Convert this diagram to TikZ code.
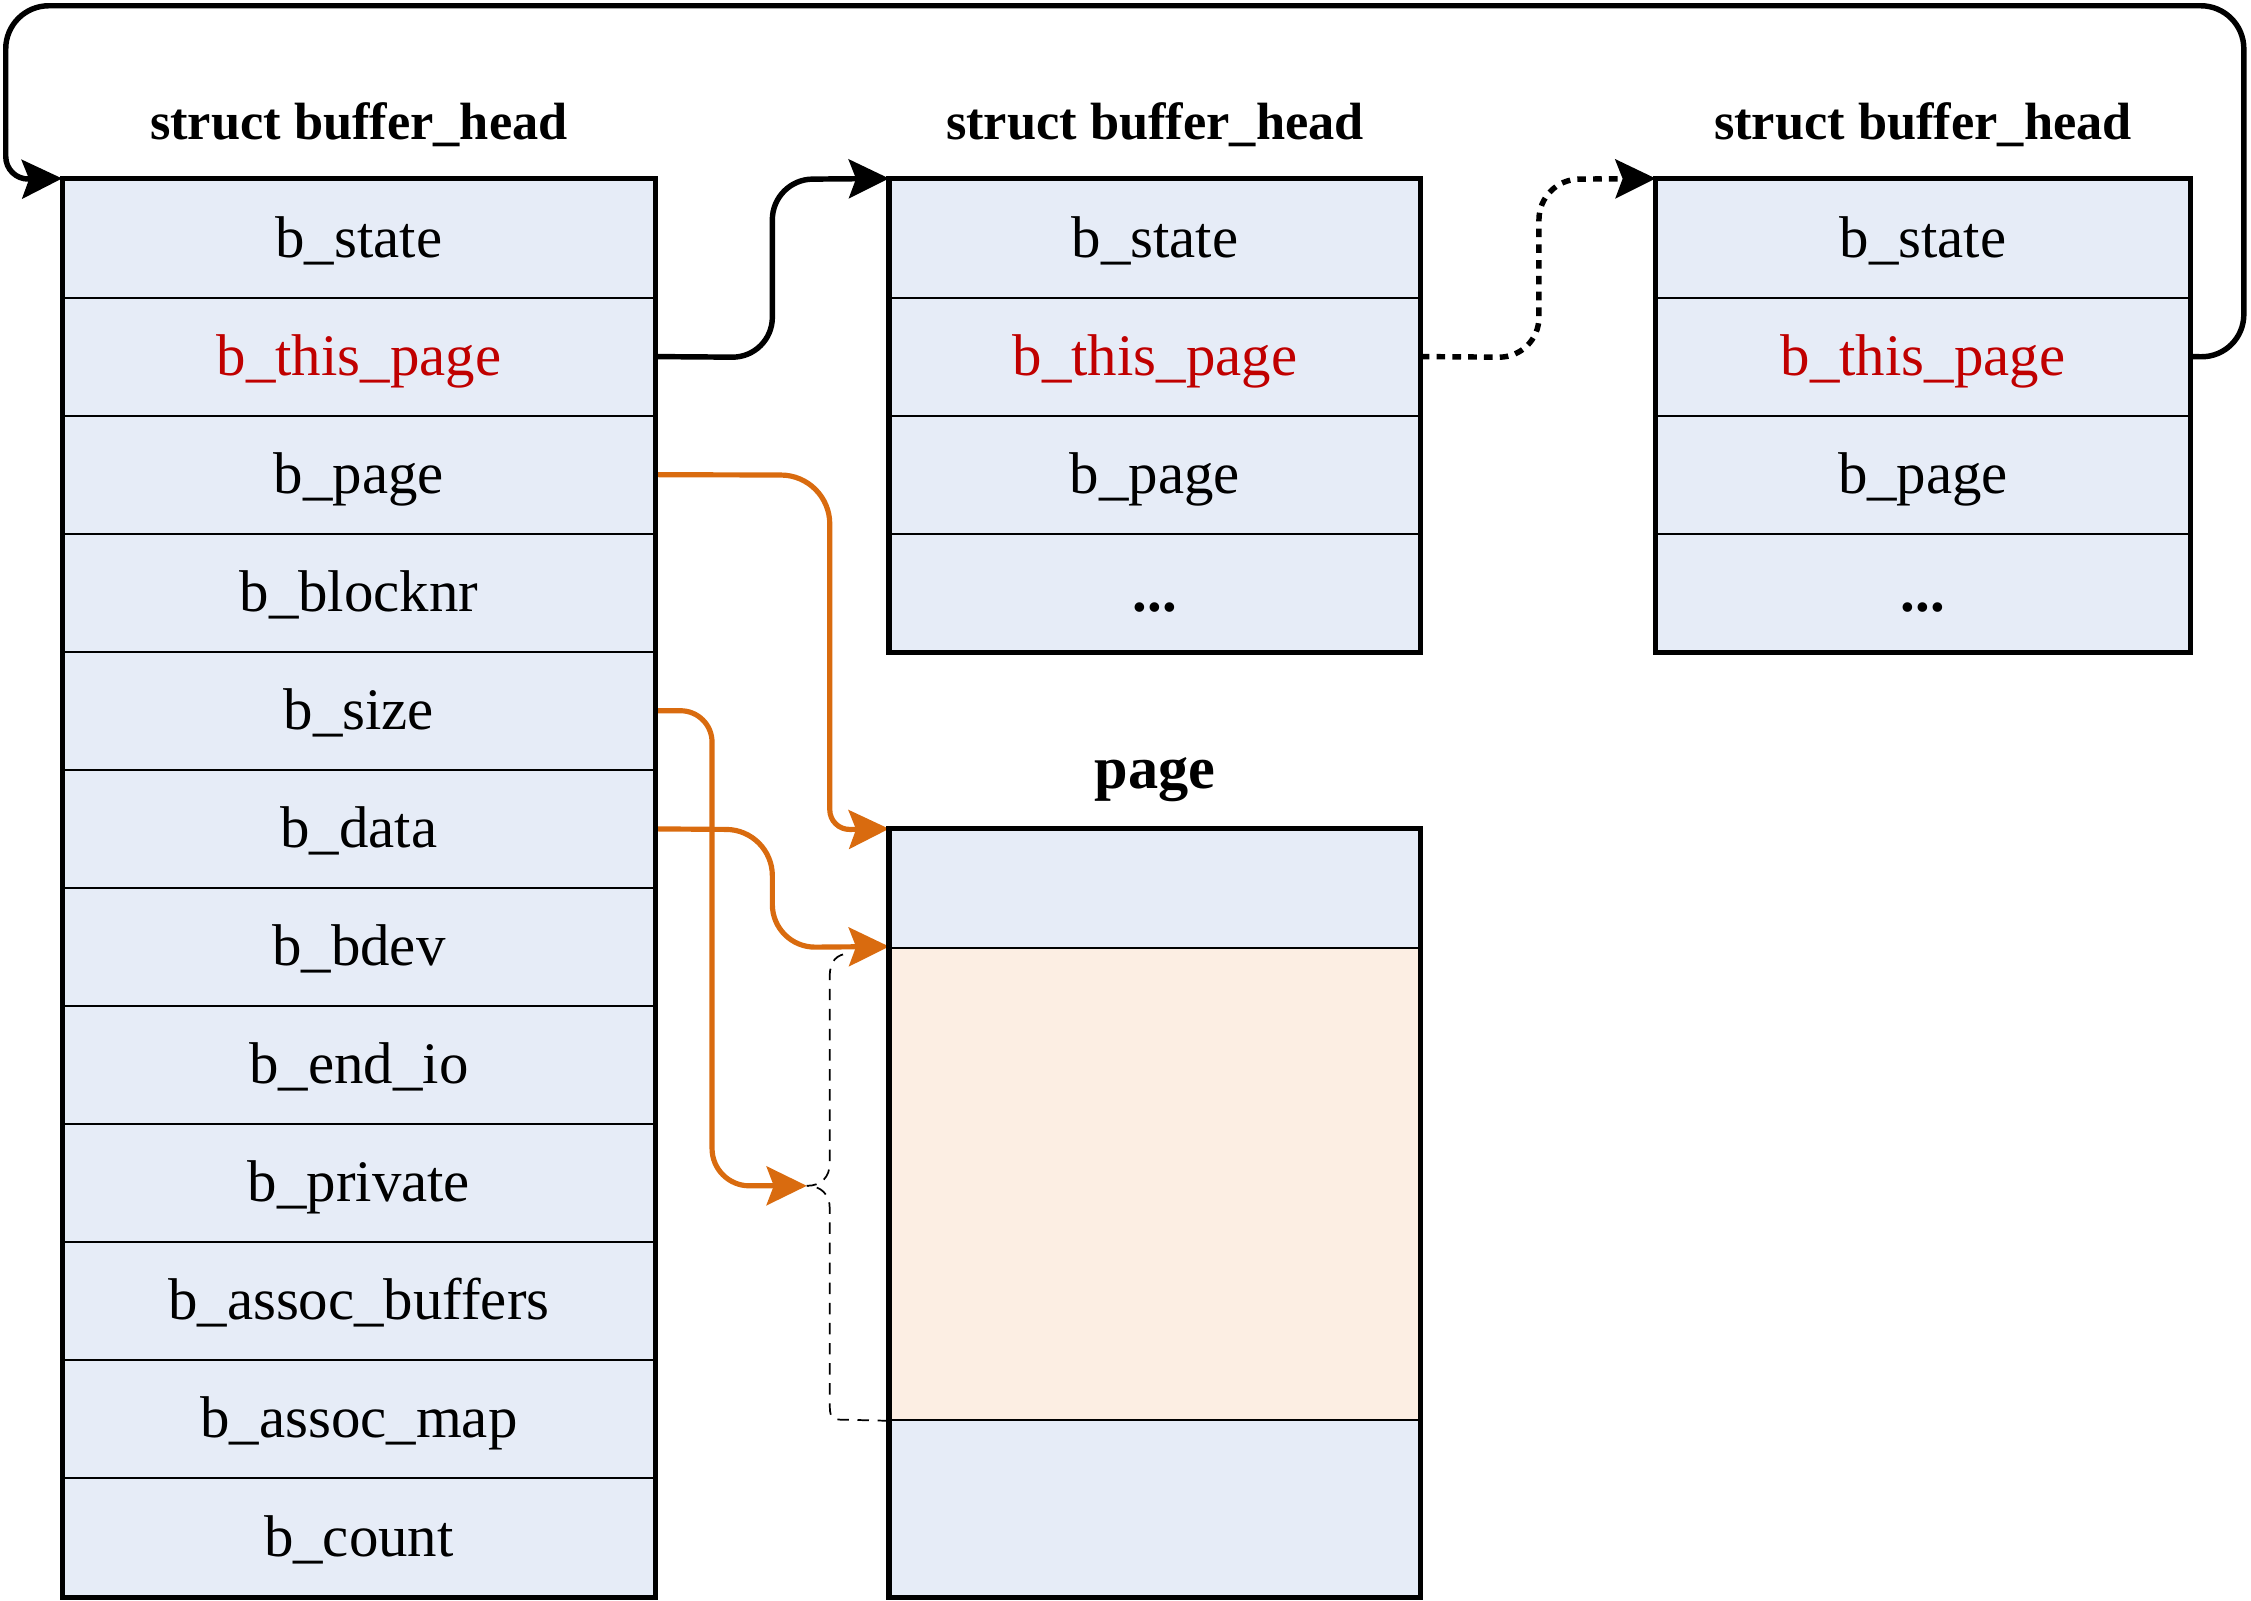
\documentclass[tikz,border=0pt]{standalone}
\usepackage{fontspec}
\setmainfont{Liberation Serif}
\usetikzlibrary{arrows.meta}
\definecolor{cellblue}{HTML}{E6ECF7}
\definecolor{cellpeach}{HTML}{FCEEE3}
\definecolor{fieldred}{HTML}{C00000}
\definecolor{linkorange}{HTML}{D96B0F}
\begin{document}
\begin{tikzpicture}[x=0.5pt, y=-0.5pt,
  cell/.style={draw=black, line width=0.7pt, fill=cellblue, inner sep=0pt,
    font=\fontsize{20.5}{24}\selectfont, text height=14pt, text depth=1pt, anchor=center},
  lcell/.style={cell, minimum width=206pt, minimum height=41.125pt},
  scell/.style={cell, minimum width=185pt, minimum height=41.125pt},
  frame/.style={draw=black, line width=1.8pt},
  title/.style={font=\fontsize{18.25}{22}\bfseries\selectfont, anchor=base, inner sep=0pt},
  tip/.style={-{Stealth[length=14pt,width=13.5pt,inset=2.5pt]}},
  blk/.style={draw=black, line width=1.9pt, tip},
  org/.style={draw=linkorange, line width=1.8pt, tip},
  bracedash/.style={draw=black, line width=0.6pt, dash pattern=on 4pt off 3pt}
]
\useasboundingbox (0,0) rectangle (1568,1115);

% titles
\node[title] (t1) at (250,97) {struct buffer\_head};
\node[title] (t2) at (804.5,97) {struct buffer\_head};
\node[title] (t3) at (1339.5,97) {struct buffer\_head};
\node[title, font=\fontsize{21}{25}\bfseries\selectfont] (tp) at (804.5,549) {page};

% left struct
\foreach \t [count=\i] in {b\_state,{\textcolor{fieldred}{b\_this\_page}},b\_page,b\_blocknr,b\_size,b\_data,b\_bdev,b\_end\_io,b\_private,b\_assoc\_buffers,b\_assoc\_map,b\_count}
  \node[lcell] (L\i) at (250,{125+82.25*(\i-0.5)}) {\t};

% middle struct
\foreach \t [count=\i] in {b\_state,{\textcolor{fieldred}{b\_this\_page}},b\_page,\textbf{...}}
  \node[scell, minimum width=184.5pt] (M\i) at (804.5,{125+82.25*(\i-0.5)}) {\t};

% right struct
\foreach \t [count=\i] in {b\_state,{\textcolor{fieldred}{b\_this\_page}},b\_page,\textbf{...}}
  \node[scell, minimum width=185.5pt] (R\i) at (1339.5,{125+82.25*(\i-0.5)}) {\t};

% page
\node[cell, minimum width=184.5pt, minimum height=41pt] (P1) at (804.5,619) {};
\node[cell, fill=cellpeach, minimum width=184.5pt, minimum height=164.5pt] (P2) at (804.5,824.5) {};
\node[cell, minimum width=184.5pt, minimum height=61.5pt] (P3) at (804.5,1050.5) {};

\coordinate (szend) at (562,826);
\coordinate (loopa) at (1563,249);
\coordinate (loopb) at (1563,4);
\coordinate (loopc) at (4,4);
\coordinate (loopd) at (4,90);

% black links
\draw[blk, -, rounded corners=15pt] (R2.east) -- (loopa) -- (loopb) -- (loopc) -- (loopd);
\draw[blk, rounded corners=8pt] (loopd) -- (4,125) -- (L1.north west);
\draw[blk, rounded corners=14pt] (L2.east) -- (538,249) -- (538,125) -- (M1.north west);
\draw[blk, dash pattern=on 3pt off 2.5pt, rounded corners=14pt] (M2.east) -- (1072,249) -- (1072,125) -- (R1.north west);

% orange links
\draw[org] (L3.east) [rounded corners=17pt] -- (578,331) [rounded corners=7pt] -- (578,578) -- (P1.north west);
\draw[org] (L5.east) [rounded corners=11pt] -- (496,495) [rounded corners=13pt] -- (496,826) -- (szend);
\draw[org] (L6.east) [rounded corners=16pt] -- (538,578) [rounded corners=15pt] -- (538,660) -- (P2.north west);

% dashed brace
\draw[bracedash] (P2.south west) -- (592,989) .. controls (578,989) and (578,989) .. (578,975)
  -- (578,842) .. controls (578,832) and (572,826) .. (szend)
  .. controls (572,826) and (578,820) .. (578,810)
  -- (578,680) .. controls (578,669) and (583,665) .. (591,664);

% frames
\draw[frame] (L1.north west) rectangle (L12.south east);
\draw[frame] (M1.north west) rectangle (M4.south east);
\draw[frame] (R1.north west) rectangle (R4.south east);
\draw[frame] (P1.north west) rectangle (P3.south east);
\end{tikzpicture}
\end{document}
